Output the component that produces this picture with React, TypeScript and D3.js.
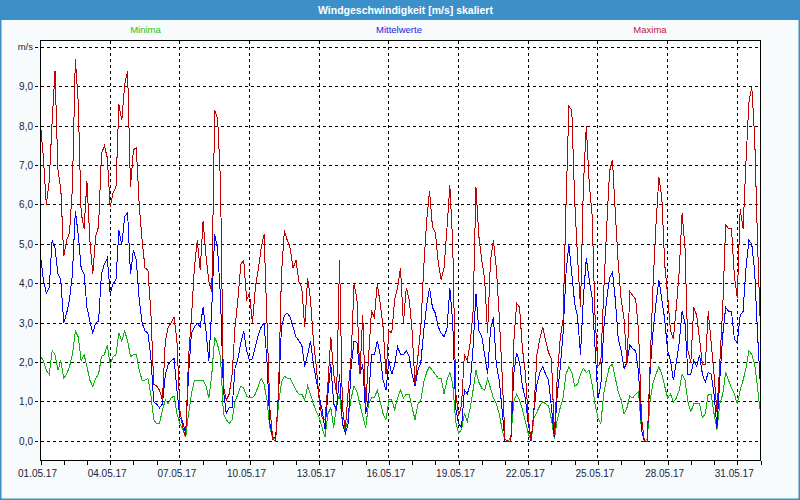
import React, { useEffect, useRef } from 'react';
import * as d3 from 'd3';

// 3-hourly samples starting 01.05.2017 00:00
const startDate = Date.UTC(2017, 4, 1);
const stepHours = 3;

const minima = [
  2.15, 2.05, 1.8, 1.7, 2.3, 2.2, 1.8, 2.05, 1.6, 1.7,
  1.9, 2.2, 2.8, 2.65, 2.05, 2.2, 1.9, 1.55, 1.4, 1.6,
  1.7, 2.15, 2.2, 2.45, 1.95, 2.15, 2.2, 2.75, 2.55, 2.8,
  2.55, 2.15, 2.2, 2.2, 1.8, 1.55, 1.55, 1.6, 1.2, 0.55,
  0.45, 0.45, 0.8, 1.05, 0.95, 1.1, 1.15, 0.7, 0.45, 0.3,
  0.1, 0.7, 1.2, 1.55, 1.55, 1.55, 1.55, 1.4, 1.1, 1.7,
  2.65, 2.45, 2.15, 0.7, 0.55, 0.45, 0.55, 1.0, 1.2, 1.4,
  1.35, 1.15, 1.1, 1.1, 1.2, 1.4, 1.6, 1.45, 1.05, 0.35,
  0.05, 0.1, 0.95, 1.5, 1.65, 1.6, 1.6, 1.45, 1.3, 1.2,
  1.2, 1.05, 1.4, 1.2, 0.95, 0.75, 0.6, 0.35, 0.1, 0.7,
  0.85, 0.35, 0.95, 1.2, 0.45, 0.3, 0.6, 1.1, 1.4, 1.25,
  0.95, 0.65, 0.35, 0.95, 1.1, 1.1, 1.3, 1.0, 0.7, 0.55,
  1.05, 1.05, 0.8, 1.1, 1.3, 1.1, 1.2, 1.2, 0.85, 0.55,
  0.95, 1.05, 1.5, 1.75, 1.9, 1.8, 1.7, 1.6, 1.6, 1.2,
  1.55, 1.75, 1.45, 0.5, 0.2, 0.3, 0.7, 0.5, 0.85, 1.3,
  1.8, 1.5, 1.35, 1.3, 1.6, 1.35, 1.1, 0.95, 0.7, 0.3,
  0.0, 0.0, 0.1, 1.0, 1.2, 1.05, 0.8, 0.5, 0.2, 0.0,
  0.6, 0.75, 0.9, 1.0, 0.95, 0.9, 0.55, 0.05, 0.55, 0.85,
  1.1, 1.7, 1.9, 1.75, 1.4, 1.45, 1.7, 1.85, 1.75, 1.8,
  1.45, 0.95, 0.6, 0.45, 1.2, 1.6, 1.9, 1.95, 1.6, 1.25,
  1.05, 0.7, 0.85, 1.15, 1.1, 1.2, 1.25, 0.3, 0.0, 0.05,
  1.05, 1.5, 1.7, 1.9, 1.7, 1.4, 1.1, 1.2, 1.0, 1.1,
  1.3, 1.7, 1.55, 1.0, 0.75, 0.95, 0.95, 0.95, 0.6, 0.7,
  1.2, 1.2, 0.7, 0.3, 0.95, 1.2, 1.75, 1.55, 1.35, 1.2,
  0.95, 1.3, 1.55, 1.85, 2.3, 2.2, 1.95, 1.35, 0.7,
];

const mittelwerte = [
  4.7, 4.1, 3.75, 3.9, 5.1, 4.9, 4.25, 4.1, 3.0, 3.25,
  3.6, 4.25, 5.85, 5.25, 4.4, 4.25, 3.4, 3.05, 2.75, 3.0,
  3.05, 4.25, 4.5, 4.65, 3.75, 4.0, 4.1, 5.35, 5.0, 5.7,
  5.8, 4.25, 4.85, 4.6, 3.6, 3.0, 2.8, 2.75, 2.15, 1.0,
  0.95, 0.85, 0.95, 1.7, 1.95, 2.05, 2.1, 1.3, 0.6, 0.5,
  0.2, 1.7, 2.75, 2.9, 3.0, 2.9, 3.4, 2.8, 2.05, 3.4,
  5.25, 4.9, 3.65, 1.3, 0.7, 0.85, 0.85, 1.85, 2.1, 2.5,
  2.8, 2.3, 2.05, 2.1, 2.4, 2.7, 2.9, 3.0, 2.05, 0.45,
  0.1, 0.1, 1.2, 2.9, 3.2, 3.25, 3.15, 2.9, 2.65, 2.55,
  2.45, 1.9, 2.2, 2.55, 1.95, 1.55, 1.15, 0.8, 0.3, 1.2,
  1.95, 0.95, 0.8, 1.7, 0.45, 0.2, 0.45, 1.9, 2.55, 2.5,
  1.7, 1.95, 0.7, 1.05, 2.2, 2.2, 2.55, 2.2, 1.55, 1.3,
  2.05, 1.7, 1.95, 2.4, 2.2, 2.2, 2.3, 2.15, 1.7, 1.4,
  1.8, 2.0, 2.8, 3.45, 3.9, 3.4, 3.25, 2.9, 2.75, 2.65,
  2.85, 3.9, 3.0, 0.85, 0.45, 0.35, 1.3, 1.2, 1.45, 2.4,
  3.75, 2.8, 2.65, 2.2, 1.7, 2.85, 3.15, 1.95, 1.55, 0.8,
  0.0, 0.0, 0.0, 1.7, 2.25, 2.0, 1.4, 1.1, 0.45, 0.0,
  0.8, 1.45, 1.75, 1.9, 1.7, 1.55, 0.85, 0.1, 1.2, 1.85,
  2.75, 4.25, 5.0, 4.25, 3.5, 3.15, 2.2, 3.65, 4.65, 4.1,
  3.65, 2.4, 1.1, 1.4, 2.85, 3.6, 4.15, 4.3, 3.6, 2.6,
  2.3, 1.85, 2.0, 2.45, 2.35, 2.3, 1.75, 0.3, 0.0, 0.0,
  1.8, 2.8, 3.5, 4.1, 3.6, 3.1, 2.3, 2.05, 1.55, 2.0,
  2.5, 3.3, 3.0, 1.7, 1.7, 2.05, 1.9, 2.2, 1.7, 1.5,
  1.75, 1.7, 1.2, 0.35, 1.6, 2.7, 3.4, 3.3, 3.3, 2.6,
  2.5, 3.2, 3.3, 4.4, 5.1, 5.0, 4.3, 2.7, 1.35,
];

const maxima = [
  8.05, 7.2, 6.0, 6.6, 8.1, 9.4, 6.9, 6.4, 4.7, 5.1,
  5.3, 6.45, 9.7, 8.6, 5.8, 5.4, 6.6, 5.1, 4.25, 5.2,
  5.45, 7.3, 7.5, 7.2, 5.95, 6.3, 6.45, 8.55, 8.15, 9.05,
  9.4, 6.45, 7.4, 7.45, 6.0, 5.1, 4.4, 4.35, 3.3, 1.45,
  1.4, 1.3, 1.05, 2.55, 2.9, 3.0, 3.15, 2.55, 0.8, 0.35,
  0.1, 2.15, 3.15, 4.4, 5.1, 4.35, 5.6, 4.7, 4.05, 3.8,
  8.4, 8.2, 6.6, 1.4, 1.05, 1.2, 1.7, 2.9, 3.6, 4.5,
  4.6, 3.6, 3.75, 3.0, 3.9, 4.35, 4.9, 5.25, 3.05, 0.85,
  0.05, 0.0, 1.3, 4.25, 5.35, 5.1, 4.9, 4.4, 4.6, 4.05,
  3.9, 2.9, 4.15, 3.6, 2.55, 1.9, 1.05, 0.6, 0.55, 1.45,
  2.65, 1.7, 1.2, 4.6, 0.85, 0.3, 1.3, 2.15, 4.0, 3.6,
  1.7, 3.2, 0.85, 2.15, 3.3, 3.15, 4.0, 3.5, 2.9, 1.7,
  2.8, 2.75, 3.6, 3.9, 4.4, 3.0, 3.9, 3.6, 2.8, 1.45,
  2.15, 2.9, 4.4, 5.6, 6.35, 5.45, 5.3, 4.55, 4.1, 4.4,
  5.4, 6.5, 5.0, 1.25, 0.65, 0.9, 2.2, 2.05, 2.5, 3.3,
  6.45, 5.2, 4.6, 4.1, 2.75, 4.6, 5.1, 4.4, 3.2, 1.7,
  0.05, 0.0, 0.0, 2.5, 3.5, 3.4, 2.35, 1.75, 0.6, 0.0,
  0.85, 2.2, 2.6, 2.9, 2.55, 2.25, 2.1, 0.15, 1.65, 2.6,
  3.1, 5.95, 8.5, 8.4, 6.1, 4.65, 3.4, 6.5, 8.0, 6.55,
  5.75, 3.2, 1.9, 2.0, 3.8, 5.4, 6.85, 7.15, 5.8, 4.5,
  3.6, 3.1, 1.95, 3.8, 3.7, 3.6, 2.8, 0.6, 0.0, 0.0,
  2.0, 4.0, 5.5, 6.7, 6.2, 4.5, 3.7, 2.8, 2.6, 3.4,
  4.3, 5.8, 4.9, 2.3, 2.0, 3.4, 3.2, 2.6, 1.95, 1.95,
  3.3, 2.5, 1.7, 0.75, 2.0, 3.4, 5.5, 5.4, 5.4, 4.2,
  3.65, 5.9, 5.4, 7.1, 8.6, 9.0, 7.7, 5.0, 2.8,
];

const yTicks = [0, 1, 2, 3, 4, 5, 6, 7, 8, 9];
const yUnit = 'm/s';
const chartTitle = 'Windgeschwindigkeit [m/s] skaliert';
const seriesNames = ['Minima', 'Mittelwerte', 'Maxima'];

const W = 800;
const H = 500;
const font = '"Liberation Sans", Arial, sans-serif';
const textColor = '#1a2340';

const App: React.FC = () => {
  const ref = useRef<SVGSVGElement | null>(null);

  useEffect(() => {
    if (!ref.current) return;
    const svg = d3.select(ref.current);
    svg.selectAll('*').remove();

    const left = 40.5, right = 760.5, top = 40.5, bottom = 460.5;
    const dayMs = 864e5;
    const t0 = new Date(startDate);
    const t1 = new Date(startDate + 31 * dayMs);

    const x = d3.scaleUtc().domain([t0, t1]).range([left, right]);
    const y = d3.scaleLinear().domain([-0.487, 10.173]).range([bottom, top]);
    const snap = (v: number) => Math.round(v - 0.5) + 0.5;

    // window background, title bar, border
    svg.append('rect').attr('width', W).attr('height', H).attr('fill', '#f8fbfb');
    svg.append('rect').attr('width', W).attr('height', 20).attr('fill', '#3d8fc8');
    svg.append('rect').attr('x', 0).attr('y', 0).attr('width', W).attr('height', H)
      .attr('fill', 'none').attr('stroke', '#3d8fc8').attr('stroke-width', 3);
    svg.append('text').attr('x', 405.5).attr('y', 13.5).attr('text-anchor', 'middle')
      .attr('font-family', font).attr('font-weight', 'bold').attr('font-size', 10.5)
      .attr('fill', '#ffffff').text(chartTitle);

    // plot area
    svg.append('rect').attr('x', left).attr('y', top).attr('width', right - left).attr('height', bottom - top)
      .attr('fill', '#ffffff');

    const grid = svg.append('g').attr('stroke', '#000').attr('stroke-dasharray', '3,3')
      .attr('shape-rendering', 'crispEdges');
    [...yTicks, 10].forEach(v => {
      grid.append('line').attr('x1', 35).attr('x2', right).attr('y1', snap(y(v))).attr('y2', snap(y(v)));
    });
    const days = d3.utcDay.range(t0, new Date(startDate + 31 * dayMs + 1));
    const majorDays = days.filter((_, i) => i % 3 === 0);
    majorDays.slice(1).forEach(d => {
      grid.append('line').attr('x1', snap(x(d))).attr('x2', snap(x(d))).attr('y1', top).attr('y2', bottom);
    });

    // series
    svg.append('clipPath').attr('id', 'plotclip').append('rect')
      .attr('x', left).attr('y', top).attr('width', right - left).attr('height', bottom - top);
    const line = d3.line<number>()
      .x((_, i) => x(new Date(startDate + i * stepHours * 3600e3)))
      .y(v => y(v));
    const series: [number[], string][] = [
      [minima, '#10b010'],
      [mittelwerte, '#0000ff'],
      [maxima, '#c00000'],
    ];
    const lines = svg.append('g').attr('clip-path', 'url(#plotclip)');
    series.forEach(([vals, color]) => {
      lines.append('path').attr('d', line(vals) || '').attr('fill', 'none')
        .attr('stroke', color).attr('stroke-width', 1).attr('shape-rendering', 'crispEdges');
    });

    // frame
    svg.append('rect').attr('x', left).attr('y', top).attr('width', right - left).attr('height', bottom - top)
      .attr('fill', 'none').attr('stroke', '#000').attr('shape-rendering', 'crispEdges');

    // x axis ticks and labels
    const xAxis = d3.axisBottom(x).tickValues(days).tickSize(4).tickFormat(() => '');
    const gx = svg.append('g').attr('transform', `translate(0,${bottom})`).call(xAxis);
    gx.select('.domain').remove();
    gx.selectAll('line').attr('shape-rendering', 'crispEdges').attr('stroke', '#000');
    const fmt = d3.utcFormat('%d.%m.%y');
    svg.append('g').selectAll('text').data(majorDays).join('text')
      .attr('x', d => x(d) - 3).attr('y', 477).attr('text-anchor', 'middle')
      .attr('font-family', font).attr('font-size', 10).attr('fill', textColor)
      .text(d => fmt(d));

    // y labels
    const yfmt = d3.format('.1f');
    svg.append('g').selectAll('text').data(yTicks).join('text')
      .attr('x', 33).attr('y', v => y(v) + 3.5).attr('text-anchor', 'end')
      .attr('font-family', font).attr('font-size', 10).attr('fill', textColor)
      .text(v => yfmt(v).replace('.', ','));
    svg.append('text').attr('x', 33).attr('y', y(10) + 3).attr('text-anchor', 'end')
      .attr('font-family', font).attr('font-size', 9.5).attr('fill', textColor).text(yUnit);

    // legend
    const legendX = [145.5, 399, 650];
    const legendColors = ['#22c022', '#1a1ae6', '#c0143c'];
    seriesNames.forEach((name, i) => {
      svg.append('text').attr('x', legendX[i]).attr('y', 33).attr('text-anchor', 'middle')
        .attr('font-family', font).attr('font-size', 9.5).attr('fill', legendColors[i]).text(name);
    });
  }, []);

  return (
    <svg ref={ref} width={W} height={H} style={{ position: 'absolute', left: 0, top: 0 }} />
  );
};

export default App;
